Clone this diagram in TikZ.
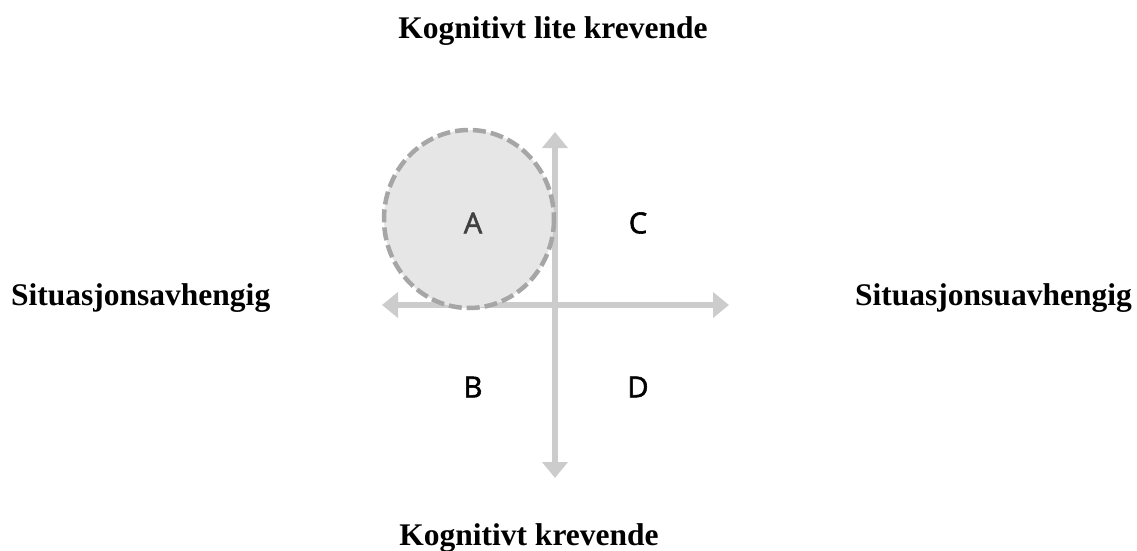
\documentclass[tikz,border=0pt]{standalone}
\usepackage{fontspec}
\setmainfont{Liberation Serif}
\newfontfamily\quadfont[FakeBold=2]{Open Sans}
\usetikzlibrary{arrows.meta}
\definecolor{axisgray}{HTML}{CCCCCC}
\definecolor{ringgray}{HTML}{A6A6A6}
\definecolor{fillgray}{HTML}{E6E6E6}
\definecolor{agray}{HTML}{404040}
\tikzset{
  axisline/.style={draw=axisgray, line width=6.5pt, {Triangle[width=25pt,length=16pt]}-{Triangle[width=25pt,length=16pt]}},
  ringstyle/.style={draw=ringgray, fill=fillgray, line width=4.5pt, dash pattern=on 13pt off 5pt},
  title/.style={font=\fontsize{31.5}{36}\selectfont\bfseries, inner sep=0pt},
  quad/.style={font=\quadfont\fontsize{29}{34}\selectfont, inner sep=0pt},
}
\begin{document}
\begin{tikzpicture}[x=1pt,y=-1pt]
\useasboundingbox (0,0) rectangle (1137,551);
% axes
\coordinate (top) at (555,132);
\coordinate (bot) at (555,478);
\coordinate (lft) at (382,305);
\coordinate (rgt) at (729,305);
\draw[axisline] (top) -- (bot);
\draw[axisline] (lft) -- (rgt);
% dashed region
\path[ringstyle] (469,219) ellipse [x radius=85, y radius=89];
% quadrant labels
\node[quad, text=agray] (A) at (473,223) {A};
\node[quad] (C) at (638,223) {C};
\node[quad] (B) at (473,387) {B};
\node[quad] (D) at (638,387) {D};
% titles
\node[title, anchor=base] (topt) at (553,38) {Kognitivt lite krevende};
\node[title, anchor=base] (bott) at (529,545) {Kognitivt krevende};
\node[title, anchor=base west] (leftt) at (11,305) {Situasjonsavhengig};
\node[title, anchor=base west] (rightt) at (855,305) {Situasjonsuavhengig};
\end{tikzpicture}
\end{document}
